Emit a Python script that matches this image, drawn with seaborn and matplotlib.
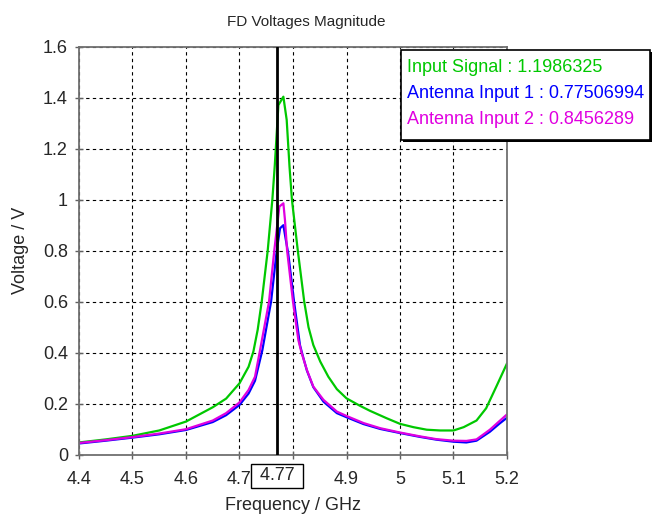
import numpy as np
import pandas as pd
import matplotlib
matplotlib.use('Agg')
import matplotlib.pyplot as plt
import matplotlib.transforms as mtransforms
from matplotlib.patches import Rectangle
import seaborn as sns

# Valores (frequência em GHz, tensão em V)
freq_input = [4.40, 4.45, 4.50, 4.55, 4.60, 4.65, 4.675, 4.70, 4.717, 4.726, 4.734,
              4.7415, 4.7527, 4.7614, 4.766, 4.7727, 4.782, 4.7882, 4.7935, 4.798,
              4.809, 4.821, 4.829, 4.838, 4.851, 4.866, 4.882, 4.90, 4.925, 4.944,
              4.975, 5.00, 5.025, 5.05, 5.075, 5.10, 5.119, 5.143, 5.161, 5.18, 5.20]
volt_input = [0.048, 0.060, 0.074, 0.095, 0.130, 0.186, 0.220, 0.280, 0.345, 0.405, 0.490,
              0.600, 0.800, 1.000, 1.136, 1.371, 1.404, 1.313, 1.129, 1.000,
              0.800, 0.600, 0.500, 0.430, 0.365, 0.306, 0.257, 0.221, 0.192, 0.172,
              0.143, 0.121, 0.108, 0.098, 0.095, 0.095, 0.108, 0.134, 0.182, 0.267, 0.358]

freq_ant1 = [4.40, 4.45, 4.50, 4.55, 4.60, 4.65, 4.675, 4.70, 4.717, 4.729, 4.7427,
             4.759, 4.7696, 4.7758, 4.782, 4.786, 4.791, 4.802, 4.813, 4.818,
             4.826, 4.838, 4.857, 4.882, 4.90, 4.932, 4.963, 5.00, 5.037,
             5.068, 5.10, 5.124, 5.143, 5.168, 5.186, 5.20]
volt_ant1 = [0.044, 0.055, 0.067, 0.080, 0.097, 0.128, 0.155, 0.195, 0.240, 0.290, 0.410,
             0.600, 0.800, 0.888, 0.900, 0.850, 0.790, 0.600, 0.430, 0.390,
             0.330, 0.265, 0.208, 0.163, 0.147, 0.120, 0.101, 0.085, 0.070,
             0.059, 0.051, 0.048, 0.055, 0.090, 0.122, 0.145]

freq_ant2 = [4.40, 4.45, 4.50, 4.55, 4.60, 4.65, 4.675, 4.70, 4.717, 4.729, 4.7384,
             4.7552, 4.765, 4.7745, 4.782, 4.785, 4.789, 4.800, 4.810, 4.816,
             4.826, 4.838, 4.857, 4.882, 4.90, 4.932, 4.963, 5.00,
             5.037, 5.068, 5.10, 5.124, 5.143, 5.168, 5.186, 5.20]
volt_ant2 = [0.046, 0.057, 0.069, 0.083, 0.100, 0.134, 0.163, 0.205, 0.254, 0.306, 0.410,
             0.600, 0.800, 0.973, 0.986, 0.920, 0.800, 0.600, 0.450, 0.400,
             0.332, 0.267, 0.215, 0.169, 0.152, 0.124, 0.104, 0.087,
             0.072, 0.061, 0.055, 0.054, 0.060, 0.098, 0.132, 0.158]

series_names = ['Input Signal', 'Antenna Input 1', 'Antenna Input 2']
cursor_values = ['1.1986325', '0.77506994', '0.8456289']
cores = ['#00c800', '#0000ff', '#e000e0']
cursor_freq = 4.77

x_ticks = [4.4, 4.5, 4.6, 4.7, 4.8, 4.9, 5.0, 5.1, 5.2]
y_ticks = [0, 0.2, 0.4, 0.6, 0.8, 1.0, 1.2, 1.4, 1.6]

df = pd.concat([
    pd.DataFrame({'freq': freq_input, 'volt': volt_input, 'sinal': series_names[0]}),
    pd.DataFrame({'freq': freq_ant1, 'volt': volt_ant1, 'sinal': series_names[1]}),
    pd.DataFrame({'freq': freq_ant2, 'volt': volt_ant2, 'sinal': series_names[2]}),
], ignore_index=True)

sns.set_style('white')
plt.rcParams['font.family'] = ['Liberation Sans', 'DejaVu Sans']

fig = plt.figure(figsize=(6.53, 5.25), dpi=100)
ax = fig.add_axes([79 / 653, 1 - 454.7 / 525, (507 - 79) / 653, (454.7 - 46.7) / 525])

sns.lineplot(
    data=df, x='freq', y='volt', hue='sinal',
    palette=dict(zip(series_names, cores)),
    estimator=None, sort=False, legend=False,
    linewidth=1.6, ax=ax
)

ax.axvline(cursor_freq, color='black', linewidth=2.0, zorder=5)

ax.set_xlim(4.4, 5.2)
ax.set_ylim(0, 1.6)
ax.set_xticks(x_ticks)
ax.set_yticks(y_ticks)
ax.set_xticklabels([f'{v:g}' for v in x_ticks])
ax.set_yticklabels([f'{v:g}' for v in y_ticks])
ax.grid(True, color='black', linestyle=(0, (3, 3)), linewidth=0.8)
ax.tick_params(direction='inout', length=6, width=1, color='#606060',
               labelsize=13, bottom=True, left=True)
ax.tick_params(axis='x', pad=9)
ax.tick_params(axis='y', pad=5)

for s in ax.spines.values():
    s.set_color('#707070')
    s.set_linewidth(1.3)

ax.set_xlabel('Frequency / GHz', fontsize=13, labelpad=6)
ax.set_ylabel('Voltage / V', fontsize=13, labelpad=10)
fig.text(306 / 653, 1 - 22 / 525, 'FD Voltages Magnitude', fontsize=11,
         ha='center', va='center')

# caixa com o valor do cursor no eixo x
trans = mtransforms.blended_transform_factory(ax.transData, ax.transAxes)
ax.text(cursor_freq, -0.052, f' {cursor_freq:g} ', transform=trans, fontsize=13,
        ha='center', va='center', zorder=10,
        bbox=dict(boxstyle='square,pad=0.2', facecolor='white', edgecolor='black', linewidth=1))

# caixa de legenda com os valores no cursor
fig.patches.append(Rectangle((403 / 653, 1 - 142 / 525), 249 / 653, 90 / 525,
                             transform=fig.transFigure, facecolor='black',
                             edgecolor='none', zorder=20))
fig.patches.append(Rectangle((401 / 653, 1 - 140 / 525), 249 / 653, 90 / 525,
                             transform=fig.transFigure, facecolor='white',
                             edgecolor='black', linewidth=1.2, zorder=21))
for i, (nome, valor, cor) in enumerate(zip(series_names, cursor_values, cores)):
    fig.text(407 / 653, 1 - (68 + 26 * i) / 525, f'{nome} : {valor}', color=cor,
             fontsize=13, ha='left', va='center', zorder=22)

plt.savefig('out.png', dpi=100)
